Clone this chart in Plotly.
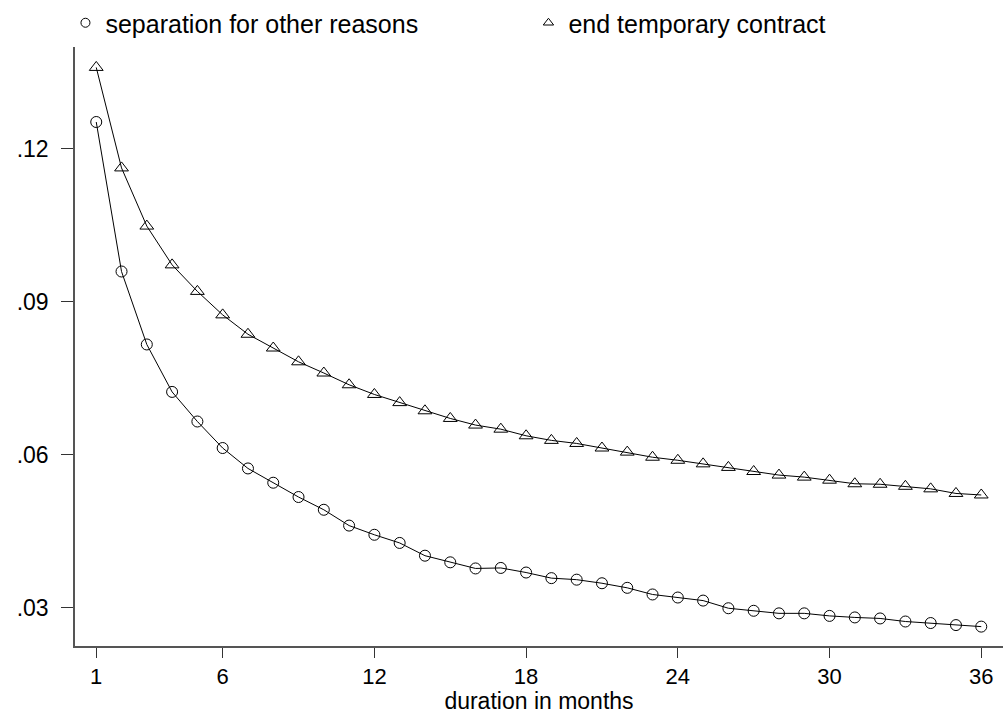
import plotly.graph_objects as go

months = list(range(1, 37))

sep_other = [0.1252, 0.0959, 0.0816, 0.0723, 0.0665, 0.0613, 0.0573, 0.0545, 0.0517,
             0.0492, 0.0461, 0.0443, 0.0427, 0.0402, 0.0389, 0.0377, 0.0378, 0.0369,
             0.0358, 0.0355, 0.0348, 0.0339, 0.0326, 0.0320, 0.0314, 0.0299, 0.0294,
             0.0289, 0.0289, 0.0284, 0.0281, 0.0279, 0.0273, 0.0270, 0.0266, 0.0263]

end_temp = [0.1359, 0.1162, 0.1048, 0.0972, 0.0920, 0.0874, 0.0836, 0.0809, 0.0782,
            0.0760, 0.0737, 0.0718, 0.0702, 0.0686, 0.0671, 0.0658, 0.0650, 0.0637,
            0.0628, 0.0622, 0.0613, 0.0605, 0.0595, 0.0589, 0.0582, 0.0575, 0.0567,
            0.0560, 0.0556, 0.0550, 0.0543, 0.0542, 0.0538, 0.0533, 0.0524, 0.0521]

series_names = ["separation for other reasons", "end temporary contract"]
x_tickvals = [1, 6, 12, 18, 24, 30, 36]
y_tickvals = [0.03, 0.06, 0.09, 0.12]
y_ticktext = [".03", ".06", ".09", ".12"]
x_title = "duration in months"

FONT = "Liberation Sans, Arial, sans-serif"
symbols = ["circle-open", "triangle-up-open"]
sizes = [11, 12]

fig = go.Figure()
for name, vals, sym, sz in zip(series_names, [sep_other, end_temp], symbols, sizes):
    fig.add_trace(go.Scatter(
        x=months, y=vals, mode="lines+markers", name=name, showlegend=False,
        line=dict(color="black", width=1),
        marker=dict(symbol=sym, size=sz, color="black", line=dict(width=1)),
    ))
# legend entries show only the marker symbol, as in the reference
for name, sym in zip(series_names, symbols):
    fig.add_trace(go.Scatter(
        x=[None], y=[None], mode="markers", name=name, showlegend=True,
        marker=dict(symbol=sym, size=9, color="black", line=dict(width=1)),
    ))

fig.update_layout(
    width=1007, height=714,
    margin=dict(l=75, r=4, t=47, b=68, autoexpand=False),
    paper_bgcolor="white", plot_bgcolor="white",
    font=dict(family=FONT, size=23, color="black"),
    showlegend=True,
    legend=dict(orientation="h", xref="container", yref="container",
                x=0.065, xanchor="left", y=1.0, yanchor="top",
                font=dict(size=25), entrywidth=418, entrywidthmode="pixels",
                bgcolor="rgba(0,0,0,0)"),
    xaxis=dict(range=[0.16, 36.86], tickvals=x_tickvals, showgrid=False, zeroline=False,
               showline=True, linecolor="#555", linewidth=1.5, automargin=False,
               ticks="outside", ticklen=10, tickcolor="#333", tickwidth=1,
               tickfont=dict(size=22),
               title=dict(text=x_title, font=dict(size=23), standoff=3)),
    yaxis=dict(range=[0.0225, 0.1399], tickvals=y_tickvals, ticktext=y_ticktext,
               showgrid=False, zeroline=False, automargin=False,
               showline=True, linecolor="#555", linewidth=1.5,
               ticks="outside", ticklen=12, tickcolor="#333", tickwidth=1,
               tickfont=dict(size=23), ticklabelstandoff=8),
)

fig.write_html("out.html", config={"displayModeBar": False},
               post_script="document.body.style.margin='0';")
